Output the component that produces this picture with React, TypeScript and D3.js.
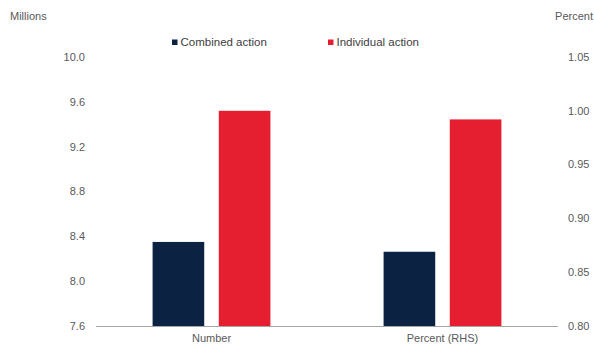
import React from "react";
import * as d3 from "d3";

// Categories on the x axis and which y axis each one is read against
const categories = ["Number", "Percent (RHS)"];
const categoryAxis = ["left", "right"];

// Series values (millions for "Number", percent for "Percent (RHS)")
const seriesNames = ["Combined action", "Individual action"];
const combinedAction = [8.35, 0.869];
const individualAction = [9.52, 0.992];

// Tick labels
const leftTicks = [7.6, 8.0, 8.4, 8.8, 9.2, 9.6, 10.0];
const rightTicks = [0.8, 0.85, 0.9, 0.95, 1.0, 1.05];

const WIDTH = 594;
const HEIGHT = 345;
const plot = { left: 96, right: 558, top: 57, bottom: 326 };
const colors = ["#0b2243", "#e51f30"];
const textColor = "#595959";
const font = "Arial, 'Liberation Sans', sans-serif";

export default function App() {
  const yLeft = d3.scaleLinear().domain([7.6, 10.0]).range([plot.bottom, plot.top]);
  const yRight = d3.scaleLinear().domain([0.8, 1.05]).range([plot.bottom, plot.top]);
  const x0 = d3.scaleBand().domain(categories).range([plot.left, plot.right]).paddingInner(0).paddingOuter(0);
  const groupWidth = x0.bandwidth() * 0.51;
  const x1 = d3
    .scaleBand()
    .domain(seriesNames)
    .range([0, groupWidth])
    .paddingInner(0.22);

  const series = [combinedAction, individualAction];

  return (
    <svg
      width={WIDTH}
      height={HEIGHT}
      style={{ position: "absolute", left: 0, top: 0, background: "#fff" }}
      fontFamily={font}
    >
      {/* Axis titles */}
      <text x={10} y={20} fontSize={11} fill={textColor}>
        Millions
      </text>
      <text x={593} y={20} fontSize={11} fill={textColor} textAnchor="end">
        Percent
      </text>

      {/* Legend */}
      {seriesNames.map((name, i) => {
        const lx = i === 0 ? 172 : 328;
        return (
          <g key={name}>
            <rect x={lx} y={39.5} width={5.5} height={5.5} fill={colors[i]} />
            <text x={lx + 8.5} y={46} fontSize={11.5} fill="#404040">
              {name}
            </text>
          </g>
        );
      })}

      {/* Left axis labels */}
      {leftTicks.map((t) => (
        <text
          key={"l" + t}
          x={85}
          y={yLeft(t)}
          dy="0.35em"
          fontSize={11}
          fill={textColor}
          textAnchor="end"
        >
          {d3.format(".1f")(t)}
        </text>
      ))}

      {/* Right axis labels */}
      {rightTicks.map((t) => (
        <text
          key={"r" + t}
          x={568}
          y={yRight(t)}
          dy="0.35em"
          fontSize={11}
          fill={textColor}
        >
          {d3.format(".2f")(t)}
        </text>
      ))}

      {/* Bars */}
      {categories.map((cat, ci) => {
        const y = categoryAxis[ci] === "left" ? yLeft : yRight;
        const gx = (x0(cat) ?? 0) + (x0.bandwidth() - groupWidth) / 2;
        return (
          <g key={cat}>
            {series.map((vals, si) => (
              <rect
                key={si}
                x={gx + (x1(seriesNames[si]) ?? 0)}
                y={y(vals[ci])}
                width={x1.bandwidth()}
                height={plot.bottom - y(vals[ci])}
                fill={colors[si]}
              />
            ))}
            <text
              x={(x0(cat) ?? 0) + x0.bandwidth() / 2}
              y={342}
              fontSize={11}
              fill={textColor}
              textAnchor="middle"
            >
              {cat}
            </text>
          </g>
        );
      })}

      {/* Baseline */}
      <line
        x1={plot.left}
        x2={plot.right}
        y1={plot.bottom + 0.5}
        y2={plot.bottom + 0.5}
        stroke="#a6a6a6"
        strokeWidth={1}
      />
    </svg>
  );
}
